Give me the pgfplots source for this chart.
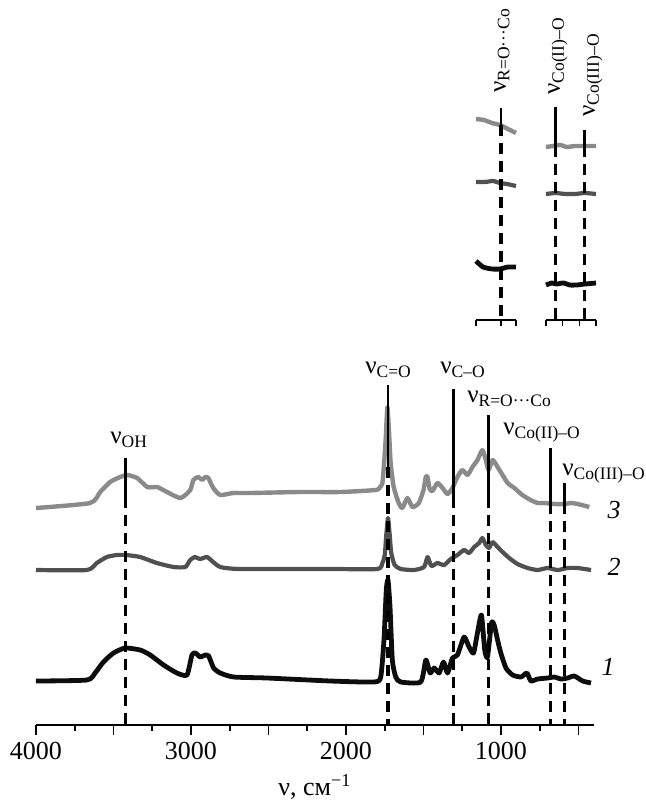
\documentclass[border=0pt]{standalone}
\usepackage{fontspec}
\setmainfont{Liberation Serif}
\usepackage{pgfplots}
\pgfplotsset{compat=1.18}
\definecolor{cthree}{HTML}{8A8A8A}
\definecolor{ctwo}{HTML}{505050}
\definecolor{cone}{HTML}{0D0D0D}
\newcommand{\nl}[1]{ν\textsubscript{#1}}
\pgfplotsset{
  solidmark/.style={black, line width=1.4pt},
  dashmark/.style={black, line width=1.6pt, dash pattern=on 5.5pt off 3.5pt},
  curve3/.style={cthree, line width=2.2pt, line join=round, smooth, tension=0.35},
  curve2/.style={ctwo, line width=2.1pt, line join=round, smooth, tension=0.35},
  curve1/.style={cone, line width=2.4pt, line join=round, smooth, tension=0.35},
}
\begin{document}
\begin{tikzpicture}[x=1pt,y=1pt]
\path[use as bounding box] (0,0) rectangle (323,-405);
\begin{axis}[
  at={(18pt,-362.5pt)}, anchor=south west,
  scale only axis, width=279pt, height=172.5pt,
  xmin=400, xmax=4000, ymin=0, ymax=345, x dir=reverse,
  axis x line=bottom, axis y line=none,
  axis line style={-, line width=1pt},
  xtick={4000,3500,...,500}, xticklabels={4000,,3000,,2000,,1000,},
  minor xtick={3750,3250,...,750},
  tick align=outside, major tick length=5pt, minor tick length=3pt,
  every tick/.style={black, line width=0.9pt},
  xticklabel style={font=\fontsize{13}{15}\selectfont},
  xlabel={ν, см\textsuperscript{−1}},
  xlabel style={font=\fontsize{13}{15}\selectfont, at={(axis description cs:0.5,0)}, anchor=center, yshift=-31pt},
  clip=false,
]
% curve 3
\addplot[curve3] coordinates {
(4000,217) (3651,222) (3586,233) (3522,243) (3457,248) (3412,250) (3347,247) (3282,238) (3218,238) (3179,235) (3069,227) (3005,235) (2985,245) (2953,248) (2927,245) (2908,248) (2888,247) (2856,237) (2811,230) (2727,232) (2617,232) (2300,233) (2035,233) (1809,235) (1780,238) (1765,242) (1755,260) (1744,285) (1733,318) (1722,292) (1712,262) (1692,238) (1660,222) (1636,217) (1604,227) (1571,218) (1530,222) (1500,235) (1485,248) (1474,248) (1460,236) (1442,234) (1410,242) (1377,237) (1345,231) (1313,237) (1281,248) (1249,255) (1216,250) (1184,258) (1152,265) (1120,275) (1098,265) (1080,255) (1054,265) (1022,258) (990,250) (957,242) (914,237) (862,230) (809,225) (764,222) (721,222) (656,221) (592,221) (548,222) (505,221) (430,218)
};
% curve 2
\addplot[curve2] coordinates {
(4000,155) (3672,155) (3608,162) (3543,168) (3478,170) (3418,170) (3328,168) (3220,162) (3112,158) (3037,158) (3005,165) (2975,168) (2942,166) (2897,168) (2864,164) (2811,158) (2681,156) (2100,156) (1798,156) (1765,162) (1750,170) (1740,190) (1729,207) (1718,190) (1708,172) (1686,160) (1647,156) (1561,155) (1496,158) (1474,168) (1449,159) (1410,162) (1367,160) (1324,166) (1281,170) (1238,175) (1206,172) (1173,178) (1141,182) (1120,187) (1098,180) (1077,177) (1054,183) (1022,178) (990,173) (947,167) (893,161) (828,157) (764,155) (699,157) (635,155) (570,157) (505,157) (419,155)
};
% curve 1
\addplot[curve1] coordinates {
(4000,44) (3672,45) (3619,52) (3565,63) (3500,72) (3425,77) (3328,75) (3263,70) (3177,60) (3091,52) (3026,50) (2994,70) (2972,72) (2940,68) (2908,70) (2886,69) (2854,57) (2811,52) (2725,48) (2509,47) (2100,44) (1820,43) (1776,48) (1755,85) (1740,135) (1729,145) (1716,118) (1701,65) (1679,48) (1647,43) (1518,43) (1485,65) (1457,52) (1431,57) (1399,52) (1371,63) (1345,52) (1313,67) (1281,70) (1238,88) (1206,78) (1177,72) (1152,92) (1126,110) (1105,75) (1087,68) (1061,102) (1044,100) (1022,85) (1001,72) (968,57) (925,50) (871,48) (833,52) (807,44) (764,46) (699,47) (656,48) (613,46) (570,47) (527,49) (473,44) (419,42)
};
% band markers
\addplot[solidmark] coordinates {(3420,267) (3420,228)};
\addplot[dashmark] coordinates {(3420,228) (3420,0)};
\addplot[solidmark] coordinates {(1729,340) (1729,258)};
\addplot[dashmark] coordinates {(1729,258) (1729,0)};
\addplot[solidmark] coordinates {(1304,336) (1304,228)};
\addplot[dashmark] coordinates {(1304,228) (1304,0)};
\addplot[solidmark] coordinates {(1080,310) (1080,228)};
\addplot[dashmark] coordinates {(1080,228) (1080,0)};
\addplot[solidmark] coordinates {(682,277) (682,222)};
\addplot[dashmark] coordinates {(682,222) (682,0)};
\addplot[solidmark] coordinates {(592,242) (592,222)};
\addplot[dashmark] coordinates {(592,222) (592,0)};
\end{axis}

% inset: R=O...Co region
\begin{axis}[
  at={(238pt,-160pt)}, anchor=south west,
  scale only axis, width=20pt, height=110pt,
  xmin=1050, xmax=1130, ymin=0, ymax=220, x dir=reverse,
  axis x line=bottom, axis y line=none,
  axis line style={-, line width=0.9pt},
  xtick={1130,1080,1050}, xticklabels={},
  tick align=outside, major tick length=3pt,
  every tick/.style={black, line width=0.8pt},
  clip=false,
]
\addplot[curve3] coordinates {(1130,201) (1114,200) (1098,197) (1082,195) (1070,192) (1058,189) (1050,187)};
\addplot[curve2] coordinates {(1130,138) (1112,138) (1096,139) (1082,137) (1068,136) (1050,134)};
\addplot[curve1] coordinates {(1130,59) (1116,53) (1098,51) (1082,51) (1066,53) (1050,53)};
\addplot[solidmark] coordinates {(1080,212) (1080,195)};
\addplot[dashmark] coordinates {(1080,195) (1080,0)};
\end{axis}

% inset: Co-O region
\begin{axis}[
  at={(273pt,-160pt)}, anchor=south west,
  scale only axis, width=25pt, height=110pt,
  xmin=555, xmax=710, ymin=0, ymax=220, x dir=reverse,
  axis x line=bottom, axis y line=none,
  axis line style={-, line width=0.9pt},
  xtick={710,658.33,606.67,555}, xticklabels={},
  tick align=outside, major tick length=3pt,
  every tick/.style={black, line width=0.8pt},
  clip=false,
]
\addplot[curve3] coordinates {(710,173) (688,174) (666,175) (645,173) (620,174) (589,174) (555,174)};
\addplot[curve2] coordinates {(710,126) (680,127) (650,126) (620,126) (590,127) (555,126)};
\addplot[curve1] coordinates {(710,35) (692,37) (677,36) (656,37) (636,35) (615,35) (589,36) (555,37)};
\addplot[solidmark] coordinates {(680,213) (680,174)};
\addplot[dashmark] coordinates {(680,174) (680,0)};
\addplot[solidmark] coordinates {(590,190) (590,174)};
\addplot[dashmark] coordinates {(590,174) (590,0)};
\end{axis}

% labels
\begin{scope}[every node/.style={inner sep=0pt, font=\fontsize{12.5}{14}\selectfont}]
\node[anchor=west] at (55,-220) {\nl{OH}};
\node[anchor=west] at (182.5,-185) {\nl{C=O}};
\node[anchor=west] at (220,-185) {\nl{C–O}};
\node[anchor=west] at (233.5,-199.5) {\nl{R=O···Co}};
\node[anchor=west] at (251.5,-216.5) {\nl{Co(II)–O}};
\node[anchor=west] at (281,-237) {\nl{Co(III)–O}};
\node[anchor=west, rotate=90] at (251,-46.5) {\nl{R=O···Co}};
\node[anchor=west, rotate=90] at (279,-47.5) {\nl{Co(II)–O}};
\node[anchor=west, rotate=90] at (296.5,-58.5) {\nl{Co(III)–O}};
\node[font=\fontsize{13}{15}\selectfont\itshape] at (307,-255) {3};
\node[font=\fontsize{13}{15}\selectfont\itshape] at (307,-283.5) {2};
\node[font=\fontsize{13}{15}\selectfont\itshape] at (304,-333.5) {1};
\end{scope}
\end{tikzpicture}
\end{document}
